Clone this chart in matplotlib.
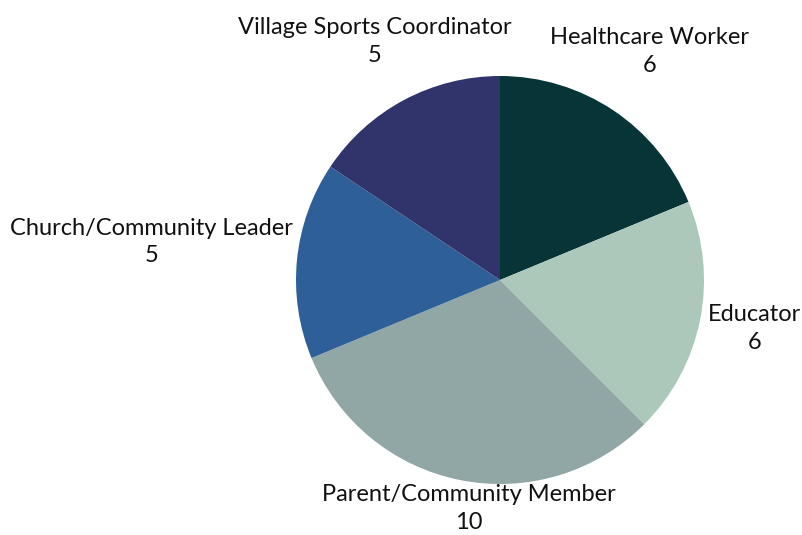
import numpy as np
import matplotlib
matplotlib.use("Agg")
import matplotlib.pyplot as plt

categories = ["Healthcare Worker", "Educator", "Parent/Community Member",
              "Church/Community Leader", "Village Sports Coordinator"]
values = [6, 6, 10, 5, 5]
colors = ["#073437", "#abc8bb", "#91a7a6", "#2f5f98", "#30346b"]
label_dist = [1.34, 1.27, 1.13, 1.72, 1.32]
angle_adj = [0.5, 0.5, 3.5, -0.6, -0.4]

W, H = 803, 535
fig = plt.figure(figsize=(W / 100, H / 100), dpi=100)
cx, cy, R = 500, 280, 204
ax = fig.add_axes([(cx - R) / W, (H - cy - R) / H, 2 * R / W, 2 * R / H])
ax.set_xlim(-1, 1)
ax.set_ylim(-1, 1)
ax.set_aspect("equal")
ax.axis("off")

wedges, _ = ax.pie(values, colors=colors, startangle=90, counterclock=False,
                   radius=1, center=(0, 0), frame=False,
                   wedgeprops=dict(linewidth=0))
ax.set_xlim(-1, 1)
ax.set_ylim(-1, 1)

total = sum(values)
start = 90.0
for i, (cat, v) in enumerate(zip(categories, values)):
    span = v / total * 360
    mid = np.deg2rad(start - span / 2 + angle_adj[i])
    start -= span
    d = label_dist[i]
    ax.text(d * np.cos(mid), d * np.sin(mid), f"{cat}\n{v}", ha="center",
            va="center", fontsize=17, family="Lato", color="#111111",
            linespacing=1.4, clip_on=False)

fig.savefig("out.png", dpi=100)
